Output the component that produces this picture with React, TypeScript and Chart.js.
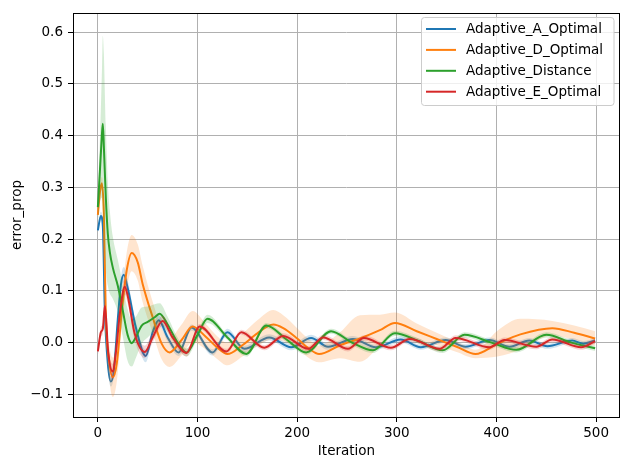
import React, { useEffect, useRef } from 'react';
import { Chart, registerables } from 'chart.js';

Chart.register(...registerables);

const seriesNames = ['Adaptive_A_Optimal', 'Adaptive_D_Optimal', 'Adaptive_Distance', 'Adaptive_E_Optimal'];
const seriesColors = ['#1f77b4', '#ff7f0e', '#2ca02c', '#d62728'];
const bandColors = ['rgba(31,119,180,0.2)', 'rgba(255,127,14,0.2)', 'rgba(44,160,44,0.2)', 'rgba(214,39,40,0.2)'];

const xTicks = [0, 100, 200, 300, 400, 500];
const yTicks = [-0.1, 0, 0.1, 0.2, 0.3, 0.4, 0.5, 0.6];

// Adaptive_A_Optimal
const aIter = [0, 3, 5, 7, 10, 13, 16, 20, 23, 26, 30, 38, 48, 55, 61, 70, 81, 94, 115, 130, 147, 172, 194, 214, 231, 256, 279, 304, 324, 349, 369, 393, 413, 433, 451, 476, 487, 499];
const aErr = [0.217, 0.245, 0.225, 0.06, -0.04, -0.075, -0.055, 0.045, 0.11, 0.131, 0.105, 0.03, -0.026, 0.02, 0.043, 0.01, -0.019, 0.029, -0.019, 0.02, -0.012, 0.01, -0.009, 0.009, -0.008, 0.007, -0.009, 0.006, -0.009, 0.005, -0.008, 0.005, -0.008, 0.004, -0.007, 0.004, -0.002, 0.004];
const aSpread = [0.005, 0.008, 0.01, 0.01, 0.01, 0.01, 0.01, 0.012, 0.014, 0.015, 0.015, 0.012, 0.012, 0.01, 0.01, 0.008, 0.007, 0.006, 0.006, 0.007, 0.006, 0.006, 0.006, 0.006, 0.006, 0.006, 0.005, 0.006, 0.005, 0.005, 0.005, 0.005, 0.005, 0.005, 0.005, 0.005, 0.005, 0.005];

// Adaptive_D_Optimal
const dIter = [0, 2, 4, 6, 8, 11, 15, 19, 24, 29, 34, 40, 45, 55, 64, 72, 84, 95, 108, 120, 130, 145, 160, 176, 186, 200, 212, 222, 243, 263, 283, 298, 320, 340, 360, 379, 401, 424, 456, 478, 499];
const dErr = [0.247, 0.29, 0.308, 0.25, 0.05, -0.03, -0.067, -0.04, 0.06, 0.14, 0.173, 0.155, 0.113, 0.049, -0.002, -0.019, 0.005, 0.031, 0.012, -0.01, -0.022, -0.005, 0.018, 0.035, 0.028, 0.008, -0.012, -0.022, -0.005, 0.008, 0.024, 0.038, 0.022, 0.007, -0.008, -0.022, -0.002, 0.016, 0.028, 0.019, 0.008];
const dSpread = [0.008, 0.01, 0.012, 0.015, 0.02, 0.03, 0.038, 0.035, 0.03, 0.035, 0.035, 0.035, 0.035, 0.03, 0.03, 0.028, 0.03, 0.03, 0.025, 0.022, 0.022, 0.022, 0.025, 0.028, 0.025, 0.02, 0.018, 0.016, 0.025, 0.045, 0.03, 0.02, 0.015, 0.012, 0.01, 0.008, 0.025, 0.03, 0.014, 0.014, 0.014];

// Adaptive_Distance
const gIter = [0, 2, 4, 5, 6, 8, 10, 12, 15, 20, 25, 30, 34, 38, 44, 50, 57, 62, 70, 80, 89, 100, 110, 130, 149, 169, 190, 209, 234, 255, 276, 298, 322, 346, 368, 395, 420, 450, 475, 499];
const gErr = [0.262, 0.33, 0.4, 0.423, 0.38, 0.28, 0.21, 0.175, 0.145, 0.11, 0.062, 0.014, -0.001, 0.01, 0.033, 0.04, 0.049, 0.056, 0.035, 0.0, -0.019, 0.015, 0.046, 0.01, -0.022, 0.033, 0.005, -0.019, 0.022, 0.0, -0.015, 0.018, 0.003, -0.015, 0.015, 0.0, -0.014, 0.015, 0.0, -0.011];
const gSpread = [0.03, 0.06, 0.12, 0.17, 0.18, 0.14, 0.1, 0.08, 0.06, 0.05, 0.05, 0.05, 0.045, 0.04, 0.035, 0.03, 0.025, 0.02, 0.015, 0.01, 0.008, 0.008, 0.008, 0.005, 0.005, 0.005, 0.005, 0.005, 0.005, 0.005, 0.005, 0.005, 0.005, 0.005, 0.005, 0.005, 0.005, 0.005, 0.005, 0.005];

// Adaptive_E_Optimal
const eIter = [0, 3, 5, 7, 8.5, 10, 15, 18, 22, 27, 30, 37, 47, 55, 65, 75, 89, 102, 129, 144, 167, 186, 211, 226, 251, 267, 294, 313, 343, 359, 393, 408, 440, 456, 485, 499];
const eErr = [-0.017, 0.02, 0.027, 0.071, 0.04, -0.01, -0.056, -0.02, 0.055, 0.108, 0.09, 0.017, -0.018, 0.01, 0.042, 0.01, -0.02, 0.031, -0.017, 0.02, -0.01, 0.013, -0.012, 0.01, -0.012, 0.009, -0.01, 0.007, -0.012, 0.009, -0.009, 0.005, -0.008, 0.006, -0.009, 0.003];
const eSpread = [0.008, 0.01, 0.01, 0.012, 0.012, 0.012, 0.015, 0.015, 0.015, 0.015, 0.015, 0.013, 0.012, 0.01, 0.01, 0.008, 0.007, 0.005, 0.005, 0.005, 0.005, 0.005, 0.005, 0.005, 0.005, 0.005, 0.005, 0.005, 0.005, 0.005, 0.005, 0.005, 0.005, 0.005, 0.005, 0.005];

const seriesIter = [aIter, dIter, gIter, eIter];
const seriesErr = [aErr, dErr, gErr, eErr];
const seriesSpread = [aSpread, dSpread, gSpread, eSpread];

const FONT = 'DejaVu Sans';

const fmtY = (v: number) => v.toFixed(1).replace('-', '\u2212');

// black frame round the plot area, like matplotlib spines
const framePlugin = {
    id: 'frame',
    afterDatasetsDraw(chart: any) {
        const { ctx, chartArea } = chart;
        ctx.save();
        ctx.strokeStyle = '#000';
        ctx.lineWidth = 1;
        ctx.strokeRect(Math.round(chartArea.left) + 0.5, Math.round(chartArea.top) + 0.5,
            Math.round(chartArea.right - chartArea.left) - 1, Math.round(chartArea.bottom - chartArea.top));
        ctx.restore();
    }
};

// legend box in the upper right corner
const legendPlugin = {
    id: 'insideLegend',
    afterDraw(chart: any) {
        const { ctx } = chart;
        const x0 = 421.5, y0 = 17.5, w = 192.5, h = 88;
        ctx.save();
        ctx.beginPath();
        ctx.roundRect(x0, y0, w, h, 3);
        ctx.fillStyle = 'rgba(255,255,255,0.8)';
        ctx.fill();
        ctx.strokeStyle = '#cccccc';
        ctx.lineWidth = 1;
        ctx.stroke();
        ctx.font = `13.5px "${FONT}"`;
        ctx.textBaseline = 'middle';
        seriesNames.forEach((name, i) => {
            const y = 29 + i * 20.9;
            ctx.beginPath();
            ctx.moveTo(426, y);
            ctx.lineTo(456, y);
            ctx.strokeStyle = seriesColors[i];
            ctx.lineWidth = 2;
            ctx.stroke();
            ctx.fillStyle = '#000';
            ctx.fillText(name, 466, y + 0.5);
        });
        ctx.restore();
    }
};

const App = () => {
    const canvasRef = useRef<HTMLCanvasElement>(null);

    useEffect(() => {
        let chart: Chart | null = null;
        if (canvasRef.current) {
            const ctx = canvasRef.current.getContext('2d');
            if (ctx) {
                const datasets: any[] = [];
                seriesNames.forEach((name, i) => {
                    const iter = seriesIter[i];
                    const err = seriesErr[i];
                    const spread = seriesSpread[i];
                    const layer = (3 - i) * 3;
                    datasets.push({
                        label: name + ' lower',
                        data: iter.map((x, k) => ({ x, y: err[k] - spread[k] })),
                        borderColor: 'transparent',
                        borderWidth: 0,
                        pointRadius: 0,
                        fill: false,
                        cubicInterpolationMode: 'monotone',
                        order: layer + 2
                    });
                    datasets.push({
                        label: name + ' upper',
                        data: iter.map((x, k) => ({ x, y: err[k] + spread[k] })),
                        borderColor: 'transparent',
                        borderWidth: 0,
                        pointRadius: 0,
                        backgroundColor: bandColors[i],
                        fill: { target: i * 3 },
                        cubicInterpolationMode: 'monotone',
                        order: layer
                    });
                    datasets.push({
                        label: name,
                        data: iter.map((x, k) => ({ x, y: err[k] })),
                        borderColor: seriesColors[i],
                        borderWidth: 2,
                        pointRadius: 0,
                        fill: false,
                        cubicInterpolationMode: 'monotone',
                        order: layer + 1
                    });
                });

                chart = new Chart(ctx, {
                    type: 'line',
                    data: { datasets },
                    plugins: [framePlugin, legendPlugin],
                    options: {
                        animation: false,
                        responsive: false,
                        events: [],
                        layout: { padding: { top: 10, right: 10, left: 0, bottom: 0 } },
                        plugins: {
                            legend: { display: false },
                            tooltip: { enabled: false }
                        },
                        scales: {
                            x: {
                                type: 'linear',
                                min: -24.95,
                                max: 523.95,
                                afterBuildTicks: (scale: any) => {
                                    scale.ticks = xTicks.map(v => ({ value: v }));
                                },
                                afterFit: (scale: any) => { scale.height = 53; },
                                ticks: {
                                    color: '#000',
                                    font: { family: FONT, size: 13.5 },
                                    padding: 3,
                                    maxRotation: 0,
                                    callback: (v: any) => String(v)
                                },
                                grid: { color: '#b0b0b0', lineWidth: 1, tickColor: '#000', tickLength: 5 },
                                border: { display: false },
                                title: {
                                    display: true,
                                    text: 'Iteration',
                                    color: '#000',
                                    font: { family: FONT, size: 13.5 },
                                    padding: { top: 0, bottom: 10 }
                                }
                            },
                            y: {
                                type: 'linear',
                                min: -0.1438,
                                max: 0.637,
                                afterBuildTicks: (scale: any) => {
                                    scale.ticks = yTicks.map(v => ({ value: v }));
                                },
                                afterFit: (scale: any) => { scale.width = 73; },
                                ticks: {
                                    color: '#000',
                                    font: { family: FONT, size: 13.5 },
                                    padding: 5,
                                    callback: (v: any) => fmtY(Number(v))
                                },
                                grid: { color: '#b0b0b0', lineWidth: 1, tickColor: '#000', tickLength: 5 },
                                border: { display: false },
                                title: {
                                    display: true,
                                    text: 'error_prop',
                                    color: '#000',
                                    font: { family: FONT, size: 13.5 },
                                    padding: { top: 9, bottom: 0 }
                                }
                            }
                        }
                    }
                } as any);
            }
        }

        return () => {
            if (chart) {
                chart.destroy();
            }
        };
    }, []);

    return (
        <div style={{ position: 'absolute', top: 0, left: 0, width: 630, height: 470, background: '#fff' }}>
            <canvas ref={canvasRef} width={630} height={470} style={{ display: 'block' }}></canvas>
        </div>
    );
};

export default App;
